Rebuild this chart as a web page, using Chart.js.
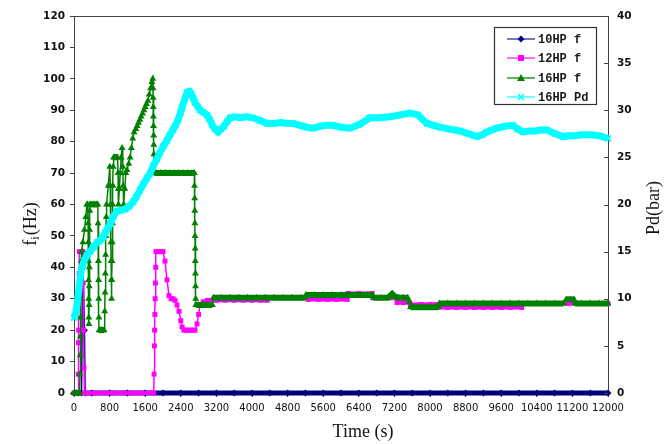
<!DOCTYPE html>
<html><head><meta charset="utf-8">
<script src="https://cdn.jsdelivr.net/npm/chart.js@4.4.1/dist/chart.umd.min.js"></script>
<style>html,body{margin:0;padding:0;background:#fff}#wrap{width:669px;height:444px}</style>
</head><body><div id="wrap"><canvas id="c" width="669" height="444"></canvas></div>
<script>
// ---------- data ----------
const seriesNames = ['10HP f', '12HP f', '16HP f', '16HP Pd'];
const xTickValues = [0,800,1600,2400,3200,4000,4800,5600,6400,7200,8000,8800,9600,10400,11200,12000];

// 10HP f (Hz)
const time10 = [0,100,170,195,235,250,400,800,1200,1600,2000,2400,2800,3200,3600,4000,4400,4800,5200,5600,6000,6400,6800,7200,7600,8000,8400,8800,9200,9600,10000,10400,10800,11200,11600,12000];
const f10    = [0,0,0,45,20,0,0,0,0,0,0,0,0,0,0,0,0,0,0,0,0,0,0,0,0,0,0,0,0,0,0,0,0,0,0,0];

// 12HP f (Hz)
const time12 = [0,60,90,95,100,105,110,115,120,160,195,205,215,225,235,300,500,700,900,1100,1300,1500,1700,1790,
  1800,1806,1812,1818,1824,1830,1836,1842,1900,1950,2000,2045,2090,2135,2180,2225,2270,2315,2360,2400,2430,2470,2520,2570,2620,2670,2720,2765,2800,2830,2900,
  3000,3200,3400,3600,3800,4000,4200,4340,4360,4600,4800,5000,5240,5260,5500,5700,5900,6140,6160,6400,6700,6720,6900,7100,7240,7260,7400,7540,7560,7800,8000,8150,
  8160,8400,8600,8800,9000,9200,9400,9600,9800,10060,10080,10300,10500,10700,10900,11100,11300,11500,11700,11900,12000];
const f12    = [0,0,0,6,16,20,30,38,45,45,45,35,20,8,0,0,0,0,0,0,0,0,0,0,
  6,15,20,25,30,35,40,45,45,45,45,42,36,31,30,30,29.5,28,26,23,21,20,20,20,20,20,20,22,25,28,29,
  29.5,29.5,29.5,29.5,29.5,29.5,29.5,29.5,30.3,30.3,30.3,30.3,30.3,29.8,29.8,29.8,29.8,29.8,31.7,31.7,31.7,30.3,30.3,30.3,30.3,28.8,28.8,28.8,28.2,28.2,28.2,28.2,
  27.2,27.2,27.2,27.2,27.2,27.2,27.2,27.2,27.2,27.2,28.5,28.5,28.5,28.5,28.5,28.5,28.5,28.5,28.5,28.5,28.5];

// 16HP f (Hz)
const time16 = [0,50,100,125,
  135,140,145,150,155,160,165,170,200,235,265,290,305,
  318,321,324,327,330,333,336,340,343,346,349,352,355,358,
  390,430,470,510,535,540,544,548,552,556,560,565,590,620,650,675,
  690,697,704,711,718,725,732,770,805,
  815,820,825,830,835,840,845,850,855,860,865,870,875,880,890,
  920,950,980,990,995,1000,1020,1040,1060,1080,1095,1105,1115,1140,1165,
  1190,1230,1260,1290,1320,1350,1390,1420,1450,1480,1510,1540,1570,1600,1630,1660,1690,1720,1750,1770,
  1775,1778,1781,1784,1787,1790,1793,1796,1799,1802,
  1850,1950,2050,2150,2250,2350,2450,2550,2650,2705,
  2708,2711,2714,2717,2720,2723,2726,2729,2732,2735,2738,
  2800,2900,3000,3110,
  3130,3300,3500,3700,3900,4100,4300,4500,4700,4900,5100,5190,
  5210,5400,5600,5800,6000,6200,6400,6600,6710,
  6730,6900,7050,7100,7150,7200,7300,7400,7500,7530,7560,
  7700,7900,8100,8190,
  8210,8400,8600,8800,9000,9200,9400,9600,9800,10000,10200,10400,10600,10800,11000,
  11060,11150,11240,11260,11400,11600,11800,12000];
const f16    = [0,0,0,0,
  6,12,18,24,30,36,42,45,48,52,56,60,60,
  54,48,42,36,30,24,22,28,34,40,46,52,58,60,
  60,60,60,60,60,54,48,42,36,30,24,20,20,20,20,20,
  26,32,38,44,50,56,60,66,72,
  66,60,54,48,42,36,30,36,42,48,54,60,66,72,75,
  75,75,75,70,65,60,65,70,75,78,72,66,60,65,70,
  71,73,75,78,81,83,84,85,86,87,88,89,90,91,92,93,95,97,99,100,
  97,94,91,88,85,82,79,76,73,70,
  70,70,70,70,70,70,70,70,70,70,
  66,62,58,54,50,46,42,38,34,30,28,
  28,28,28,28,
  30.3,30.3,30.3,30.3,30.3,30.3,30.3,30.3,30.3,30.3,30.3,30.3,
  31.2,31.2,31.2,31.2,31.2,31.2,31.2,31.2,31.2,
  30.3,30.3,30.3,30.8,31.5,30.8,30.3,30.3,30.3,29,27.3,
  27.3,27.3,27.3,27.3,
  28.5,28.5,28.5,28.5,28.5,28.5,28.5,28.5,28.5,28.5,28.5,28.5,28.5,28.5,28.5,
  29.8,29.8,29.8,28.5,28.5,28.5,28.5,28.5];

// 16HP Pd (bar)
const timePd = [0,40,70,110,160,225,290,360,440,520,590,650,700,760,820,880,970,1060,1150,1240,1330,1400,1480,1560,1640,1710,1790,1860,1930,2010,2090,2160,2220,2280,2340,2390,2430,2490,2540,2590,2630,2680,2720,2780,2830,2900,2990,3050,3100,3170,3240,3300,3370,3440,3510,3620,3730,3870,4020,4180,4340,4500,4650,4800,4920,5080,5230,5370,5530,5680,5820,6000,6200,6420,6650,6880,7100,7320,7550,7730,7930,8080,8220,8450,8670,8870,9060,9170,9280,9390,9500,9680,9860,9970,10090,10230,10360,10500,10630,10810,10990,11130,11260,11420,11590,11800,12000];
const pd16   = [8.0,8.5,9.5,11,13,14,14.6,15,15.5,16,16.2,16.5,17,17.5,18,18.7,19.3,19.4,19.5,19.8,20.3,20.8,21.5,22.2,22.8,23.3,24.2,24.8,25.5,26.2,26.8,27.4,27.9,28.4,29.0,29.7,30.3,31.2,31.9,32.0,31.8,31.3,30.8,30.4,30.0,29.8,29.5,29.0,28.5,28.0,27.7,28.0,28.3,28.8,29.2,29.3,29.2,29.3,29.2,28.9,28.6,28.6,28.7,28.6,28.6,28.4,28.2,28.1,28.3,28.4,28.4,28.2,28.1,28.5,29.2,29.2,29.3,29.5,29.7,29.5,28.6,28.4,28.2,28.0,27.8,27.5,27.2,27.4,27.7,27.9,28.1,28.3,28.4,28.0,27.7,27.8,27.8,27.9,27.9,27.5,27.2,27.3,27.3,27.4,27.4,27.3,27.0];

// ---------- chart ----------
const toXY = (ts, vs) => ts.map((t, i) => ({x: t, y: vs[i]}));
const colors = ['#000080', '#ff00ff', '#008000', '#00ffff'];
const steepOr = (flat) => ({ borderWidth: c => (Math.abs(c.p1.y - c.p0.y) > Math.abs(c.p1.x - c.p0.x) ? 1.5 : flat) });

const frameAndText = {
  id: 'frameAndText',
  afterDraw(chart) {
    const ctx = chart.ctx, a = chart.chartArea;
    ctx.save();
    ctx.strokeStyle = '#444'; ctx.lineWidth = 1;
    ctx.beginPath(); ctx.moveTo(a.left, a.top + 0.5); ctx.lineTo(a.right, a.top + 0.5); ctx.stroke();
    ctx.fillStyle = '#111';
    const serif = 'Liberation Serif';
    ctx.font = '18px "' + serif + '"'; ctx.textAlign = 'center'; ctx.textBaseline = 'middle';
    ctx.fillText('Time (s)', 363, 432);
    ctx.save(); ctx.translate(31, 224); ctx.rotate(-Math.PI / 2);
    ctx.textAlign = 'left'; ctx.textBaseline = 'middle';
    const big = '18px "' + serif + '"', small = '12px "' + serif + '"';
    ctx.font = big; const w1 = ctx.measureText('f').width, w3 = ctx.measureText('(Hz)').width;
    ctx.font = small; const w2 = ctx.measureText('i').width;
    let x0 = -(w1 + w2 + 1 + w3) / 2;
    ctx.font = big; ctx.fillText('f', x0, 0);
    ctx.font = small; ctx.fillText('i', x0 + w1, 5);
    ctx.font = big; ctx.fillText('(Hz)', x0 + w1 + w2 + 1, 0);
    ctx.restore();
    ctx.save(); ctx.translate(654, 208); ctx.rotate(-Math.PI / 2);
    ctx.font = big; ctx.textAlign = 'center'; ctx.textBaseline = 'middle';
    ctx.fillText('Pd(bar)', 0, 0);
    ctx.restore();
    // legend
    const lx = 494, ly = 27, lw = 102, lh = 77;
    ctx.fillStyle = '#fff'; ctx.fillRect(lx, ly, lw, lh);
    ctx.strokeStyle = '#333'; ctx.lineWidth = 1.2; ctx.strokeRect(lx + 0.5, ly + 0.5, lw, lh);
    const rows = [39, 58, 78, 97];
    const lineCols = ['#4a4ab0', '#ff40ff', '#2a9a2a', '#40ffff'];
    rows.forEach((y, i) => {
      ctx.strokeStyle = lineCols[i]; ctx.lineWidth = 1.5;
      ctx.beginPath(); ctx.moveTo(507, y); ctx.lineTo(535, y); ctx.stroke();
      const cx = 521; ctx.fillStyle = colors[i]; ctx.strokeStyle = colors[i];
      ctx.beginPath();
      if (i === 0) { ctx.moveTo(cx, y - 3.5); ctx.lineTo(cx + 3.5, y); ctx.lineTo(cx, y + 3.5); ctx.lineTo(cx - 3.5, y); ctx.closePath(); ctx.fill(); }
      else if (i === 1) { ctx.fillRect(cx - 3, y - 3, 6, 6); }
      else if (i === 2) { ctx.moveTo(cx, y - 4); ctx.lineTo(cx + 4, y + 3); ctx.lineTo(cx - 4, y + 3); ctx.closePath(); ctx.fill(); }
      else { ctx.lineWidth = 1.5; ctx.moveTo(cx - 3, y - 3); ctx.lineTo(cx + 3, y + 3); ctx.moveTo(cx + 3, y - 3); ctx.lineTo(cx - 3, y + 3); ctx.stroke(); }
      ctx.fillStyle = '#1a1a1a'; ctx.font = 'bold 12px "Liberation Mono"';
      ctx.textAlign = 'left'; ctx.textBaseline = 'middle';
      ctx.fillText(seriesNames[i], 538, y + 1);
    });
    ctx.restore();
  }
};

const tickFontY = {family: 'DejaVu Sans', size: 10.5, weight: 'bold'};
const plain = v => String(v);
new Chart(document.getElementById('c').getContext('2d'), {
  type: 'line',
  data: {
    datasets: [
      {label: seriesNames[0], data: toXY(time10, f10), yAxisID: 'y', order: 3, clip: 6,
        borderColor: colors[0], backgroundColor: colors[0], borderWidth: 5, segment: steepOr(5),
        pointStyle: 'rectRot', pointRadius: 3.5, pointBorderWidth: 0},
      {label: seriesNames[1], data: toXY(time12, f12), yAxisID: 'y', order: 2, clip: 6,
        borderColor: colors[1], backgroundColor: colors[1], borderWidth: 4, segment: steepOr(4),
        pointStyle: 'rect', pointRadius: 3.5, pointBorderWidth: 0},
      {label: seriesNames[2], data: toXY(time16, f16), yAxisID: 'y', order: 1, clip: 6,
        borderColor: colors[2], backgroundColor: colors[2], borderWidth: 6, segment: steepOr(6),
        pointStyle: 'triangle', pointRadius: 4, pointBorderWidth: 0},
      {label: seriesNames[3], data: toXY(timePd, pd16), yAxisID: 'y2', order: 0, clip: 6,
        borderColor: colors[3], backgroundColor: colors[3], borderWidth: 7,
        pointStyle: 'crossRot', pointRadius: 4, pointBorderWidth: 2}
    ]
  },
  options: {
    responsive: false, animation: false, events: [],
    layout: {padding: {top: 16, left: 0, right: 0, bottom: 0}},
    plugins: {legend: {display: false}, tooltip: {enabled: false}},
    elements: {line: {tension: 0}},
    scales: {
      x: {type: 'linear', min: 0, max: 12000, position: 'bottom',
        afterBuildTicks: s => { s.ticks = xTickValues.map(v => ({value: v})); },
        ticks: {autoSkip: false, maxRotation: 0, minRotation: 0, padding: 5, color: '#111',
          font: {family: 'DejaVu Sans', size: 10}, callback: plain},
        grid: {drawOnChartArea: false, tickLength: 4, color: '#444'},
        border: {color: '#444', width: 1},
        afterFit: s => { s.height = 51; }},
      y: {position: 'left', min: 0, max: 120,
        ticks: {stepSize: 10, padding: 5, color: '#111', font: tickFontY, callback: plain},
        grid: {drawOnChartArea: false, tickLength: 4, color: '#444'},
        border: {color: '#444', width: 1},
        afterFit: s => { s.width = 74; }},
      y2: {position: 'right', min: 0, max: 40,
        ticks: {stepSize: 5, padding: 9, color: '#111', font: tickFontY, callback: plain},
        grid: {drawOnChartArea: true, drawTicks: false, color: ctx => 'rgba(0,0,0,0)', tickLength: 0},
        border: {color: '#444', width: 1},
        afterFit: s => { s.width = 61; }}
    }
  },
  plugins: [frameAndText, {
    id: 'innerTicksRight',
    afterDraw(chart) {
      const s = chart.scales.y2, ctx = chart.ctx;
      ctx.save(); ctx.strokeStyle = '#444'; ctx.lineWidth = 1;
      s.ticks.forEach(t => {
        const y = Math.round(s.getPixelForValue(t.value)) + 0.5;
        ctx.beginPath(); ctx.moveTo(s.left - 4, y); ctx.lineTo(s.left, y); ctx.stroke();
      });
      ctx.restore();
    }
  }]
});
</script>
</body></html>
